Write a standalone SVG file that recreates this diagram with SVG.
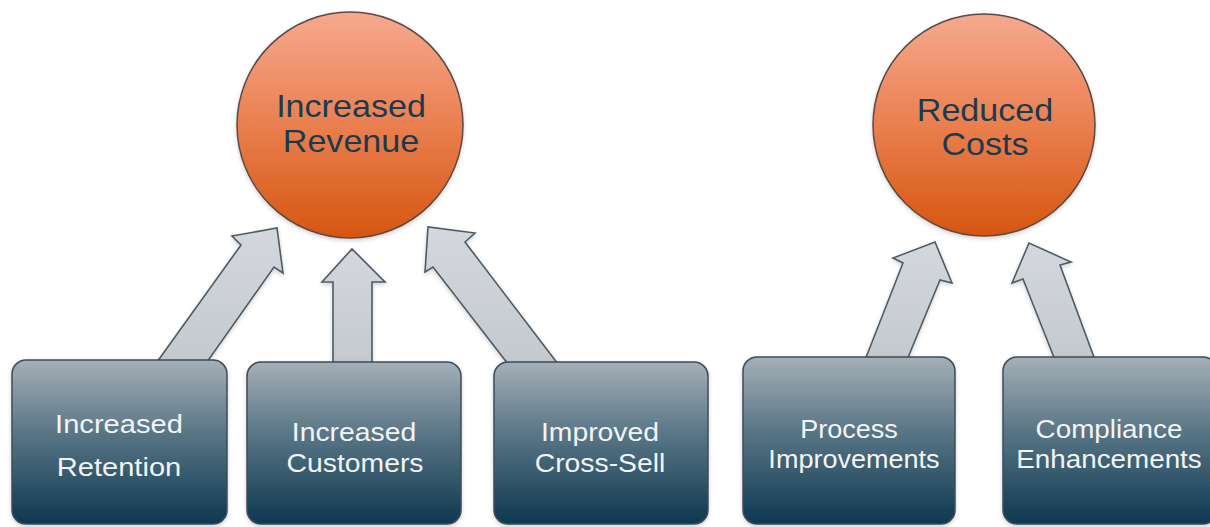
<svg xmlns="http://www.w3.org/2000/svg" width="1210" height="527" viewBox="0 0 1210 527">
<defs>
<linearGradient id="gCircle" x1="0" y1="0" x2="0" y2="1">
<stop offset="0" stop-color="#f6a98f"/>
<stop offset="0.5" stop-color="#ea7f4f"/>
<stop offset="1" stop-color="#d5560f"/>
</linearGradient>
<linearGradient id="gBox" x1="0" y1="0" x2="0" y2="1">
<stop offset="0" stop-color="#a5afb7"/>
<stop offset="0.45" stop-color="#587585"/>
<stop offset="1" stop-color="#0d3850"/>
</linearGradient>
<linearGradient id="gArrow" x1="0" y1="0" x2="0" y2="1">
<stop offset="0" stop-color="#d4d8dc"/>
<stop offset="1" stop-color="#c4c9ce"/>
</linearGradient>
<filter id="sh" x="-10%" y="-10%" width="120%" height="120%">
<feDropShadow dx="0" dy="2" stdDeviation="2" flood-color="#000" flood-opacity="0.18"/>
</filter>
</defs>
<style>
.circle{fill:url(#gCircle);stroke:#5a4a44;stroke-width:1.5}
.box{fill:url(#gBox);stroke:#3c4c58;stroke-width:1.5}
.arrow{fill:url(#gArrow);stroke:#4b5c68;stroke-width:1.6;stroke-linejoin:miter}
.ct{font-family:"Liberation Sans",Arial,sans-serif;font-size:31px;fill:#1c3a4e;text-anchor:middle}
.bt{font-family:"Liberation Sans",Arial,sans-serif;font-size:26px;fill:#f2f4f5;text-anchor:middle}
</style>
<rect width="1210" height="527" fill="#ffffff"/>

<g id="connectors">
<polygon class="arrow" filter="url(#sh)" points="157,362 241,245 232,236 277,228 283,273 274,267 207,362"/>
<polygon class="arrow" filter="url(#sh)" points="333,364 333,282 322,282 352,249 385,282 372,282 372,364"/>
<polygon class="arrow" filter="url(#sh)" points="508,364 433,267 425,272 428,227 475,233 465,242 558,364"/>
<polygon class="arrow" filter="url(#sh)" points="865,360 903,263 893,258 935,242 952,283 940,280 907,360"/>
<polygon class="arrow" filter="url(#sh)" points="1055,360 1023,279 1012,283 1029,243 1071,262 1060,265 1095,360"/>
</g>

<g id="increased-revenue">
<circle class="circle" cx="350" cy="125" r="113" filter="url(#sh)"/>
<text class="ct" transform="translate(351,117) scale(1.1,1)">Increased</text>
<text class="ct" transform="translate(351,152) scale(1.1,1)">Revenue</text>
</g>

<g id="reduced-costs">
<circle class="circle" cx="984" cy="125" r="111" filter="url(#sh)"/>
<text class="ct" transform="translate(985,121) scale(1.1,1)">Reduced</text>
<text class="ct" transform="translate(985,155) scale(1.1,1)">Costs</text>
</g>

<g id="increased-retention">
<rect class="box" x="12" y="360" width="215" height="164" rx="14" filter="url(#sh)"/>
<text class="bt" transform="translate(119,433) scale(1.12,1)">Increased</text>
<text class="bt" transform="translate(119,476) scale(1.12,1)">Retention</text>
</g>

<g id="increased-customers">
<rect class="box" x="247" y="362" width="214" height="162" rx="14" filter="url(#sh)"/>
<text class="bt" transform="translate(354,441) scale(1.09,1)">Increased</text>
<text class="bt" transform="translate(355,472) scale(1.09,1)">Customers</text>
</g>

<g id="improved-cross-sell">
<rect class="box" x="494" y="362" width="214" height="162" rx="14" filter="url(#sh)"/>
<text class="bt" transform="translate(600,441) scale(1.09,1)">Improved</text>
<text class="bt" transform="translate(600,472) scale(1.09,1)">Cross-Sell</text>
</g>

<g id="process-improvements">
<rect class="box" x="743" y="357" width="212" height="167" rx="14" filter="url(#sh)"/>
<text class="bt" transform="translate(849,438) scale(1.04,1)">Process</text>
<text class="bt" transform="translate(854,468) scale(1.04,1)">Improvements</text>
</g>

<g id="compliance-enhancements">
<rect class="box" x="1003" y="357" width="214" height="167" rx="14" filter="url(#sh)"/>
<text class="bt" transform="translate(1109,438) scale(1.07,1)">Compliance</text>
<text class="bt" transform="translate(1109,468) scale(1.07,1)">Enhancements</text>
</g>
</svg>
